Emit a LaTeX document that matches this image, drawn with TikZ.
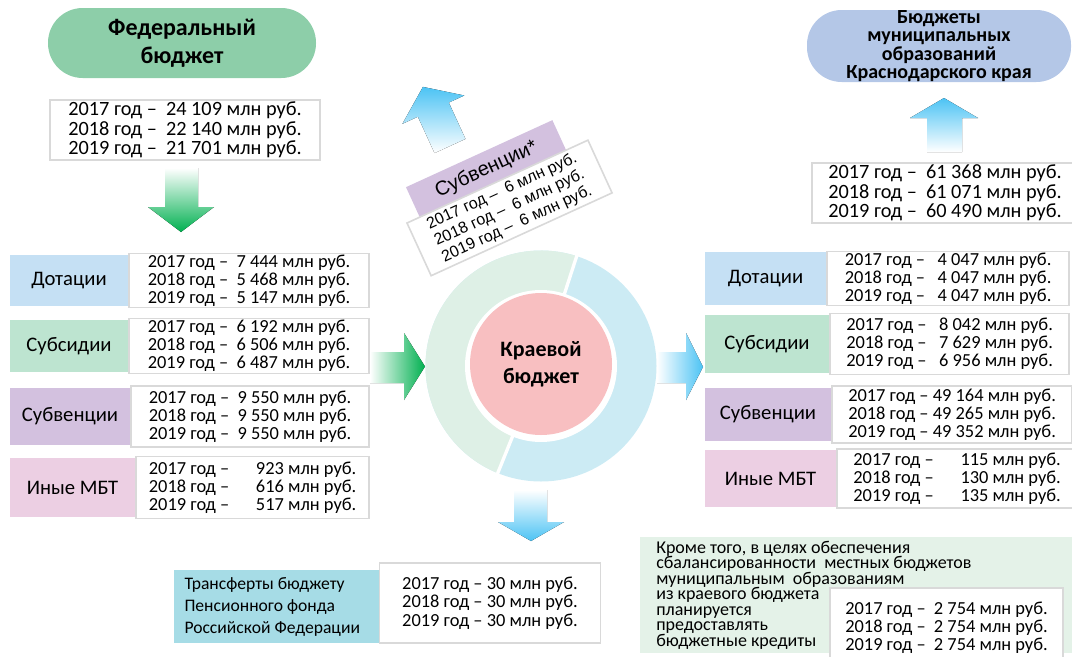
\documentclass[tikz,border=0pt]{standalone}
\usepackage{fontspec}
\setmainfont{Carlito}
\newfontfamily\arialfont{Liberation Sans}
\usetikzlibrary{positioning}

\definecolor{fedgreen}{HTML}{8DCEA9}
\definecolor{munblue}{HTML}{B4C7E7}
\definecolor{dotblue}{HTML}{C5E0F4}
\definecolor{subsgreen}{HTML}{BDE4D0}
\definecolor{subvlilac}{HTML}{D3C1DF}
\definecolor{mbtpink}{HTML}{ECCFE3}
\definecolor{pfrteal}{HTML}{A6DCE6}
\definecolor{ringgreen}{HTML}{DEF0E6}
\definecolor{ringblue}{HTML}{CCEBF4}
\definecolor{corepink}{HTML}{F8BFC1}
\definecolor{credgreen}{HTML}{E4F2E8}
\definecolor{frame}{HTML}{D9D9D9}
\definecolor{arrgreen}{HTML}{00B050}
\definecolor{arrblue}{HTML}{4CC3F4}

\tikzset{
  wd/.style={minimum width=#1*0.75pt},
  ht/.style={minimum height=#1*0.75pt},
  pill/.style={rounded corners=26pt, align=center, inner sep=0pt},
  sumbox/.style={draw=frame, line width=1.2pt, fill=white, align=center, inner sep=0pt,
    font=\fontsize{15.2}{14.5}\selectfont},
  valbox/.style={draw=frame, line width=1.2pt, fill=white, align=center, inner sep=0pt,
    font=\fontsize{13.8}{13.5}\selectfont},
  lblbox/.style={inner sep=0pt, align=center, font=\fontsize{15.5}{15.5}\selectfont},
}

\begin{document}
\begin{tikzpicture}[x=0.75pt,y=-0.75pt]
\useasboundingbox (0,0) rectangle (1072,657);

\fill[top color=white, bottom color=arrgreen] (165,168) -- (198,168) -- (198,207) -- (214,207) -- (181,232) -- (148,207) -- (165,207) -- cycle;
\fill[left color=white, right color=arrgreen] (370,352) -- (404,352) -- (404,333) -- (425,366.5) -- (404,400) -- (404,383) -- (370,383) -- cycle;
\fill[left color=white, right color=arrblue] (657,352) -- (686,352) -- (686,333) -- (703,367) -- (686,400) -- (686,383) -- (657,383) -- cycle;
\fill[top color=white, bottom color=arrblue] (514,490) -- (547,490) -- (547,522) -- (564,522) -- (531,541) -- (498,522) -- (514,522) -- cycle;
\fill[top color=arrblue, bottom color=white] (927,152) -- (962,152) -- (962,118) -- (978,118) -- (944,98) -- (910,118) -- (927,118) -- cycle;
\begin{scope}[shift={(450,146)}, rotate=24.6]
  \fill[top color=arrblue, bottom color=white] (-17,0) -- (17,0) -- (17,-40) -- (34,-40) -- (0,-65) -- (-34,-40) -- (-17,-40) -- cycle;
\end{scope}

\node[pill, fill=fedgreen, wd=268, ht=70, font=\bfseries\fontsize{18}{21}\selectfont] (fed) at (182,43) {Федеральный\\бюджет};
\node[sumbox, wd=270, ht=60] (fedsum) at (185,130) {2017 год –~~24 109 млн руб.\\2018 год –~~22 140 млн руб.\\2019 год –~~21 701 млн руб.};

\node[pill, fill=munblue, wd=264, ht=72, font=\bfseries\fontsize{15}{13.8}\selectfont] (mun) at (939,46) {Бюджеты\\муниципальных\\образований\\Краснодарского края};
\node[sumbox, wd=266, ht=60] (munsum) at (945,193) {2017 год –~~61 368 млн руб.\\2018 год –~~61 071 млн руб.\\2019 год –~~60 490 млн руб.};

\node[lblbox, fill=dotblue, wd=118, ht=51] (dotL) at (69,280.5) {Дотации};
\node[valbox, wd=240, ht=54, right=0pt of dotL] (dotLv) {2017 год –~~7 444 млн руб.\\2018 год –~~5 468 млн руб.\\2019 год –~~5 147 млн руб.};
\node[lblbox, fill=subsgreen, wd=118, ht=52] (subsL) at (69,346) {Субсидии};
\node[valbox, wd=240, ht=55, right=0pt of subsL] (subsLv) {2017 год –~~6 192 млн руб.\\2018 год –~~6 506 млн руб.\\2019 год –~~6 487 млн руб.};
\node[lblbox, fill=subvlilac, wd=120, ht=57] (subvL) at (70,416.5) {Субвенции};
\node[valbox, wd=238, ht=61, right=0pt of subvL] (subvLv) {2017 год –~~9 550 млн руб.\\2018 год –~~9 550 млн руб.\\2019 год –~~9 550 млн руб.};
\node[lblbox, fill=mbtpink, wd=125, ht=59] (mbtL) at (72.5,487.5) {Иные МБТ};
\node[valbox, wd=233, ht=62, right=0pt of mbtL] (mbtLv) {2017 год –\quad~~923 млн руб.\\2018 год –\quad~~616 млн руб.\\2019 год –\quad~~517 млн руб.};

\node[lblbox, fill=dotblue, wd=121, ht=53] (dotR) at (765.5,278.5) {Дотации};
\node[valbox, wd=242, ht=54, right=0pt of dotR] (dotRv) {2017 год –~~~4 047 млн руб.\\2018 год –~~~4 047 млн руб.\\2019 год –~~~4 047 млн руб.};
\node[lblbox, fill=subsgreen, wd=124, ht=58] (subsR) at (767,344) {Субсидии};
\node[valbox, wd=239, ht=61, right=0pt of subsR] (subsRv) {2017 год –~~~8 042 млн руб.\\2018 год –~~~7 629 млн руб.\\2019 год –~~~6 956 млн руб.};
\node[lblbox, fill=subvlilac, wd=126, ht=53] (subvR) at (768,414.5) {Субвенции};
\node[valbox, wd=240, ht=57, right=0pt of subvR] (subvRv) {2017 год – 49 164 млн руб.\\2018 год – 49 265 млн руб.\\2019 год – 49 352 млн руб.};
\node[lblbox, fill=mbtpink, wd=131, ht=57] (mbtR) at (770.5,478.5) {Иные МБТ};
\node[valbox, wd=240, ht=59, right=0pt of mbtR] (mbtRv) {2017 год –\quad~~115 млн руб.\\2018 год –\quad~~130 млн руб.\\2019 год –\quad~~135 млн руб.};

\fill[ringblue] (541,366) circle[radius=115.5];
\fill[ringgreen] (541,366) -- ++(-72:115.5) arc[start angle=-72, end angle=-248, radius=115.5] -- cycle;
\draw[white, line width=2.5pt] (541,366) -- ++(-72:117) (541,366) -- ++(-248:117);
\fill[white] (541,366) circle[radius=76];
\node[circle, fill=corepink, wd=142, inner sep=0pt, align=center, font=\bfseries\fontsize{16.5}{20}\selectfont] (core) at (541,364) {Краевой\\бюджет};

\begin{scope}[shift={(407,223)}, rotate=24.6, transform shape]
  \node[fill=subvlilac, wd=161, ht=35, inner sep=0pt, font=\arialfont\fontsize{15}{15}\selectfont] (subvT) at (94.5,-15.5) {Субвенции*};
  \node[draw=frame, line width=1.2pt, fill=white, wd=199, ht=58, inner sep=0pt, align=center, font=\arialfont\fontsize{12}{13.5}\selectfont] (subvTv) at (99.5,29) {2017 год –~~6 млн руб.\\2018 год –~~6 млн руб.\\2019 год –~~6 млн руб.};
\end{scope}

\node[fill=pfrteal, wd=205, ht=73, inner xsep=8pt, text width=138pt, align=flush left, font=\fontsize{13.2}{16.5}\selectfont] (pfr) at (276.5,606.5) {Трансферты бюджету\\Пенсионного фонда\\Российской Федерации};
\node[valbox, wd=221, ht=80, font=\fontsize{13.8}{13.75}\selectfont] (pfrv) at (490,603) {2017 год – 30 млн руб.\\2018 год – 30 млн руб.\\2019 год – 30 млн руб.};

\node[fill=credgreen, anchor=north west, wd=432, ht=115, inner xsep=11.25pt, inner ysep=3pt, text width=300pt, align=flush left, font=\fontsize{13.5}{11.6}\selectfont] (cred) at (640,537) {Кроме того, в целях обеспечения\\сбалансированности\ \ местных бюджетов\\муниципальным\ \ образованиям\\из краевого бюджета\\планируется\\предоставлять\\бюджетные кредиты};
\node[valbox, wd=233, ht=80] (credv) at (946.5,628) {2017 год –~~2 754 млн руб.\\2018 год –~~2 754 млн руб.\\2019 год –~~2 754 млн руб.};
\end{tikzpicture}
\end{document}
